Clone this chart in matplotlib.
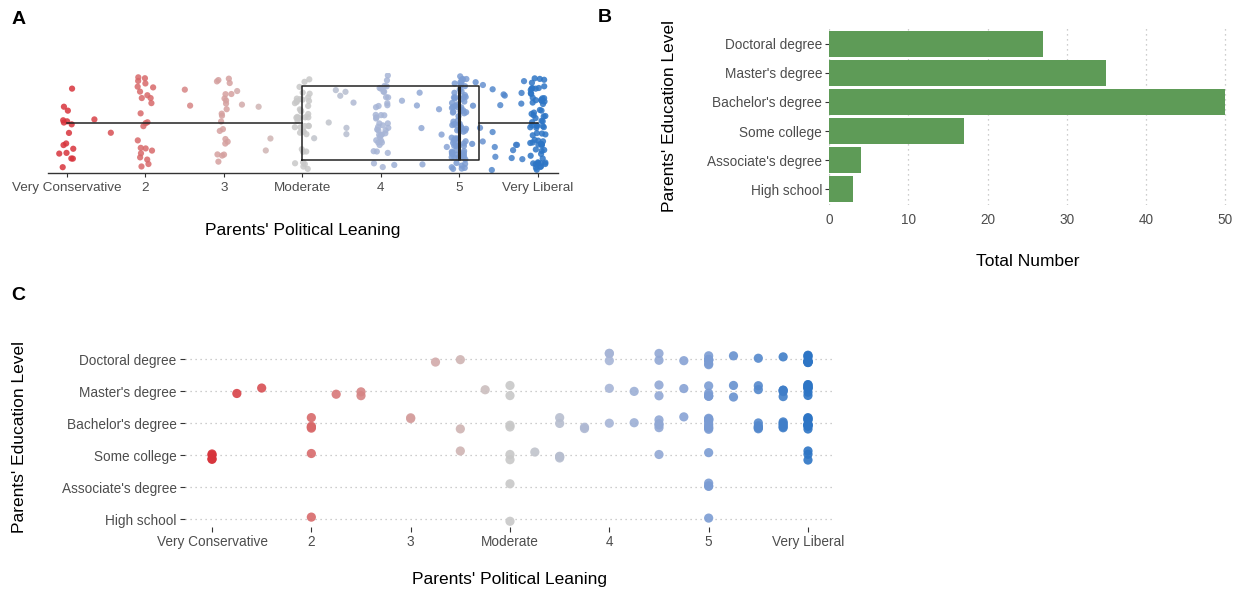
import numpy as np
import matplotlib
matplotlib.use("Agg")
import matplotlib.pyplot as plt
from matplotlib.colors import LinearSegmentedColormap, Normalize

plt.rcParams["font.family"] = ["Liberation Sans", "DejaVu Sans"]

# political leaning scale (1 = very conservative ... 7 = very liberal)
lean_ticks = [1, 2, 3, 4, 5, 6, 7]
lean_labels = ["Very Conservative", "2", "3", "Moderate", "4", "5", "Very Liberal"]

# panel A: leaning values and number of parents at each value
a_values = [1.0, 1.25, 1.5, 2.0, 2.5, 3.0, 3.25, 3.5, 4.0, 4.25, 4.5, 4.75,
            5.0, 5.25, 5.5, 5.75, 6.0, 6.25, 6.5, 6.75, 7.0]
a_counts = [16, 1, 1, 24, 2, 22, 2, 3, 42, 2, 5, 1,
            42, 2, 4, 3, 85, 6, 8, 8, 70]

# panel B: education level counts
edu_levels = ["High school", "Associate's degree", "Some college",
              "Bachelor's degree", "Master's degree", "Doctoral degree"]
edu_counts = [3, 4, 17, 50, 35, 27]

# panel C: leaning of each family, by education level
lean_high_school = [2.0, 4.0, 6.0]
lean_associate = [4.0, 6.0, 6.0, 6.0]
lean_some_college = [1.0, 1.0, 1.0, 1.0, 2.0, 3.5, 4.0, 4.0, 4.25, 4.5, 4.5, 4.5,
                     5.5, 6.0, 7.0, 7.0, 7.0]
lean_bachelor = [2.0, 2.0, 2.0, 2.0, 3.0, 3.0, 3.5, 4.0, 4.0, 4.5, 4.5, 4.75, 4.75,
                 5.0, 5.25, 5.5, 5.5, 5.5, 5.5, 5.75,
                 6.0, 6.0, 6.0, 6.0, 6.0, 6.0, 6.0, 6.0, 6.0, 6.0,
                 6.5, 6.5, 6.5, 6.5, 6.5, 6.75, 6.75, 6.75, 6.75, 6.75,
                 7.0, 7.0, 7.0, 7.0, 7.0, 7.0, 7.0, 7.0, 7.0, 7.0]
lean_master = [1.25, 1.5, 2.25, 2.5, 2.5, 3.75, 4.0, 4.0, 5.0, 5.25, 5.5, 5.5, 5.75,
               6.0, 6.0, 6.0, 6.0, 6.0, 6.25, 6.25, 6.5, 6.5,
               6.75, 6.75, 6.75, 6.75,
               7.0, 7.0, 7.0, 7.0, 7.0, 7.0, 7.0, 7.0, 7.0]
lean_doctoral = [3.25, 3.5, 5.0, 5.0, 5.0, 5.5, 5.5, 5.75,
                 6.0, 6.0, 6.0, 6.0, 6.0, 6.0, 6.0, 6.25, 6.5, 6.75,
                 7.0, 7.0, 7.0, 7.0, 7.0, 7.0, 7.0, 7.0, 7.0]
c_groups = [lean_high_school, lean_associate, lean_some_college,
            lean_bachelor, lean_master, lean_doctoral]

cmap = LinearSegmentedColormap.from_list(
    "lean", ["#D7343C", "#D86A6B", "#D5A09F", "#C8C8C8", "#A7B5D6", "#7C9CD3", "#2D75C5"])
norm = Normalize(1, 7)

tick_col = "#4D4D4D"
line_col = "#333333"
rng = np.random.default_rng(7)

fig = plt.figure(figsize=(12.5, 5.95), dpi=100)

# ---------------- A ----------------
axA = fig.add_axes([47.8 / 1250, 1 - 172.7 / 595, 510.2 / 1250, 99.7 / 595])
a_x = np.repeat(a_values, a_counts)
jx = a_x + rng.uniform(-0.1, 0.1, len(a_x))
jy = rng.uniform(-0.4, 0.4, len(a_x))
axA.scatter(jx, jy, s=20, c=cmap(norm(a_x)), alpha=0.85, linewidths=0, zorder=2)
axA.boxplot(a_x, orientation="horizontal", positions=[0], widths=0.62, whis=1.5,
            showfliers=False, showcaps=False, patch_artist=False,
            boxprops=dict(color="#222222", lw=1.1),
            whiskerprops=dict(color="#222222", lw=1.1),
            medianprops=dict(color="#222222", lw=2.2), zorder=3)
axA.set_xlim(0.755, 7.26)
axA.set_ylim(-0.42, 0.42)
axA.set_yticks([])
axA.set_xticks(lean_ticks)
axA.set_xticklabels(lean_labels)
for s in ["top", "right", "left"]:
    axA.spines[s].set_visible(False)
axA.spines["bottom"].set_color(line_col)
axA.spines["bottom"].set_linewidth(1.0)
axA.tick_params(axis="x", length=3, color=line_col, labelsize=9.7, labelcolor=tick_col, pad=4)
axA.text(0.5, -0.575, "Parents' Political Leaning", transform=axA.transAxes,
         ha="center", va="center", fontsize=12.6)

# ---------------- B ----------------
axB = fig.add_axes([829 / 1250, 1 - 205 / 595, 398 / 1250, 177 / 595])
axB.barh(np.arange(len(edu_levels)), edu_counts, height=0.9, color="#5E9B57", zorder=2)
axB.set_xlim(0, 50.2)
axB.set_ylim(-0.55, 5.55)
axB.set_yticks(np.arange(len(edu_levels)))
axB.set_yticklabels(edu_levels)
axB.set_xticks([0, 10, 20, 30, 40, 50])
axB.grid(axis="x", linestyle=(0, (1, 3)), color="#BDBDBD", lw=0.9, zorder=0)
axB.set_axisbelow(True)
for s in axB.spines.values():
    s.set_visible(False)
axB.tick_params(axis="y", length=3, color=line_col, labelsize=9.8, labelcolor=tick_col, pad=2)
axB.tick_params(axis="x", length=0, labelsize=9.8, labelcolor=tick_col, pad=6)
axB.text(0.5, -0.322, "Total Number", transform=axB.transAxes,
         ha="center", va="center", fontsize=12.5)
axB.text(-0.402, 0.5, "Parents' Education Level", transform=axB.transAxes,
         ha="center", va="center", rotation=90, fontsize=12.5)

# ---------------- C ----------------
axC = fig.add_axes([185 / 1250, 1 - 527 / 595, 650 / 1250, 182 / 595])
for i, vals in enumerate(c_groups):
    vals = np.array(vals)
    yy = i + rng.uniform(-0.2, 0.2, len(vals))
    axC.scatter(vals, yy, s=44, c=cmap(norm(vals)), alpha=0.9, linewidths=0, zorder=3)
axC.set_xlim(0.728, 7.272)
axC.set_ylim(-0.25, 5.44)
axC.set_xticks(lean_ticks)
axC.set_xticklabels(lean_labels)
axC.set_yticks(np.arange(len(edu_levels)))
axC.set_yticklabels(edu_levels)
axC.grid(axis="y", linestyle=(0, (1, 3)), color="#BDBDBD", lw=0.9, zorder=0)
for s in axC.spines.values():
    s.set_visible(False)
axC.tick_params(axis="y", length=3.5, color=line_col, labelsize=9.8, labelcolor=tick_col, pad=2.5)
axC.tick_params(axis="x", length=3.5, color=line_col, labelsize=9.8, labelcolor=tick_col, pad=2)
axC.text(0.5, -0.291, "Parents' Political Leaning", transform=axC.transAxes,
         ha="center", va="center", fontsize=12.5)
axC.text(-0.254, 0.495, "Parents' Education Level", transform=axC.transAxes,
         ha="center", va="center", rotation=90, fontsize=12.5)

# panel letters
fig.text(19 / 1250, 1 - 19 / 595, "A", ha="center", va="center", fontsize=14, weight="bold")
fig.text(605 / 1250, 1 - 18 / 595, "B", ha="center", va="center", fontsize=14, weight="bold")
fig.text(18 / 1250, 1 - 296 / 595, "C", ha="center", va="center", fontsize=14, weight="bold")

fig.savefig("out.png", dpi=100, facecolor="white")
